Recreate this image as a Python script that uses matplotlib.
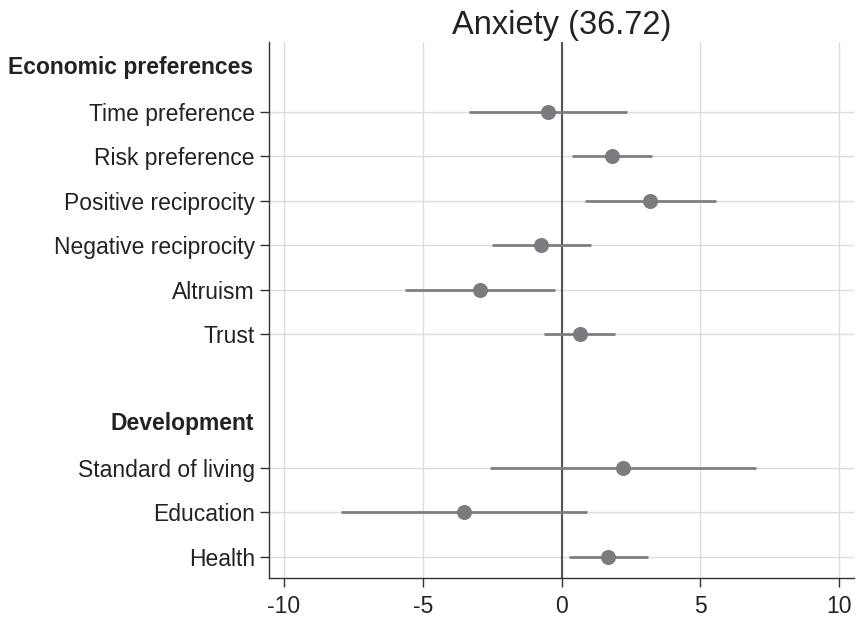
import numpy as np
import matplotlib
matplotlib.use("Agg")
import matplotlib.pyplot as plt
import matplotlib.transforms as mtransforms

plt.rcParams['font.family'] = ['Liberation Sans', 'DejaVu Sans']

# Rows from top to bottom: group headers, items, and an empty spacer row
row_labels = ["Economic preferences", "Time preference", "Risk preference",
              "Positive reciprocity", "Negative reciprocity", "Altruism", "Trust",
              "", "Development", "Standard of living", "Education", "Health"]
is_header = [True, False, False, False, False, False, False,
             False, True, False, False, False]

# Coefficients and 95% CI (None for header / spacer rows)
coef = [None, -0.48, 1.83, 3.20, -0.73, -2.95, 0.67, None, None, 2.23, -3.52, 1.68]
ci_lo = [None, -3.34, 0.38, 0.85, -2.49, -5.65, -0.63, None, None, -2.56, -7.96, 0.27]
ci_hi = [None, 2.37, 3.27, 5.57, 1.05, -0.25, 1.94, None, None, 7.00, 0.92, 3.11]

title = "Anxiety (36.72)"
xticks = [-10, -5, 0, 5, 10]

fig = plt.figure(figsize=(8.56, 6.22), dpi=100)
ax = fig.add_axes([0.314, 0.071, 0.684, 0.861])

ypos = np.arange(len(row_labels))
item_rows = [i for i in ypos if row_labels[i] and not is_header[i]]

# gridlines
for xt in xticks:
    ax.axvline(xt, color="#dcdcdc", lw=1.0, zorder=0)
for r in item_rows:
    ax.axhline(r, color="#dcdcdc", lw=1.0, zorder=0)
ax.axvline(0, color="#555555", lw=1.5, zorder=1)

for r in item_rows:
    ax.plot([ci_lo[r], ci_hi[r]], [r, r], color="#7f7f7f", lw=2.0,
            solid_capstyle="butt", zorder=2)
    ax.plot(coef[r], r, "o", color="#7b7b7f", markersize=9.8, zorder=3)

ax.set_xlim(-10.55, 10.55)
ax.set_ylim(11.47, -0.56)

ax.set_yticks(item_rows)
ax.set_yticklabels([row_labels[r] for r in item_rows], fontsize=16.5, color="#222222")
ax.set_xticks(xticks)
ax.set_xticklabels([str(x) for x in xticks], fontsize=16.5, color="#222222")
ax.tick_params(axis="y", length=6.5, width=1.0, color="#333333", pad=3.5)
ax.tick_params(axis="x", length=6.5, width=1.0, color="#333333", pad=5.5)

# group headers in bold, aligned with the tick labels
trans = mtransforms.blended_transform_factory(ax.transAxes, ax.transData)
offset = mtransforms.ScaledTranslation(-11 / 72, 0, fig.dpi_scale_trans)
for i in ypos:
    if is_header[i]:
        ax.text(0, i, row_labels[i], transform=trans + offset, ha="right",
                va="center", fontsize=16.5, fontweight="bold", color="#222222")

for side in ["top", "right"]:
    ax.spines[side].set_visible(False)
for side in ["left", "bottom"]:
    ax.spines[side].set_color("#333333")
    ax.spines[side].set_linewidth(1.0)

ax.set_title(title, fontsize=23.5, color="#222222", pad=6)

fig.savefig("out.png", dpi=100)
